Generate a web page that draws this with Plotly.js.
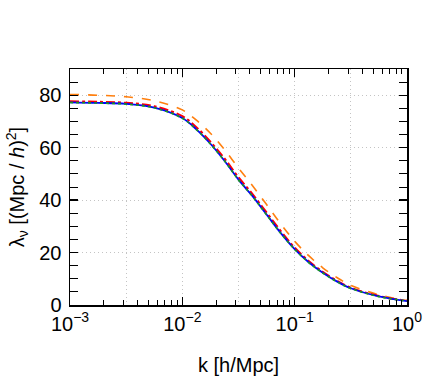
<!DOCTYPE html>
<html>
<head>
<meta charset="utf-8">
<script src="https://cdn.plot.ly/plotly-3.0.1.min.js"></script>
<style>html,body{margin:0;padding:0;background:#fff;}#chart{width:424px;height:376px;}</style>
</head>
<body>
<div id="chart"></div>
<script>
// log10(k) sample points
const logK = [-3, -2.75, -2.5, -2.25, -2, -1.875, -1.75, -1.625, -1.5, -1.375, -1.25, -1.125, -1, -0.875, -0.75, -0.625, -0.5, -0.25, 0];
const kValues = logK.map(v => Math.pow(10, v));

const lambdaBlue   = [77.3, 77.1, 76.7, 75.3, 71.3, 67.0, 61.5, 55.0, 47.8, 41.5, 34.5, 27.5, 21.3, 16.3, 12.3, 9.0, 6.4, 3.3, 1.5];
const lambdaGreen  = [77.2, 77.0, 76.6, 75.2, 71.2, 66.9, 61.4, 55.0, 47.7, 41.4, 34.4, 27.4, 21.2, 16.2, 12.2, 8.9, 6.3, 3.2, 1.5];
const lambdaRed    = [77.7, 77.5, 77.1, 75.8, 72.0, 67.8, 62.3, 55.9, 48.7, 42.3, 35.3, 28.3, 21.9, 16.8, 12.7, 9.3, 6.6, 3.4, 1.6];
const lambdaOrange = [80.3, 80.0, 79.4, 77.9, 74.4, 70.5, 65.5, 59.3, 52.2, 45.5, 38.3, 31.0, 24.3, 18.8, 14.2, 10.5, 7.5, 3.9, 1.7];

const xTickVals = [0.001, 0.01, 0.1, 1];
const xTickText = ['10<sup>−3</sup>', '10<sup>−2</sup>', '10<sup>−1</sup>', '10<sup>0</sup>'];
const xMinorVals = [];
[0.001, 0.01, 0.1].forEach(d => { for (let m = 2; m <= 9; m++) xMinorVals.push(d * m); });
const yTickVals = [0, 20, 40, 60, 80];

const FONT = 'Liberation Sans, Arial, Helvetica, sans-serif';
const GRID = {color: '#c4c4c4', dash: '1px,3px'};

function line(y, color, dash, width) {
  return {x: kValues, y: y, type: 'scatter', mode: 'lines',
    line: {color: color, dash: dash, width: width, shape: 'spline'},
    showlegend: false, hoverinfo: 'skip'};
}

const traces = [
  line(lambdaOrange, '#ff7f0e', 'dash', 1.6),
  line(lambdaRed, '#ff0000', 'dashdot', 2),
  line(lambdaBlue, '#0000ff', 'solid', 1.8),
  line(lambdaGreen, '#1a9a1a', 'dot', 1.6),
  {x: [], y: [], xaxis: 'x2', type: 'scatter', mode: 'lines', showlegend: false, hoverinfo: 'skip'}
];

const layout = {
  width: 424, height: 376,
  margin: {l: 70, r: 17, t: 69, b: 71},
  paper_bgcolor: '#fff', plot_bgcolor: '#fff',
  font: {family: FONT, color: '#000', size: 20},
  showlegend: false,
  xaxis: {
    type: 'log', range: [-3, 0],
    tickmode: 'array', tickvals: xTickVals, ticktext: xTickText,
    ticks: 'inside', ticklen: 8, tickwidth: 1.3, tickcolor: '#000',
    showline: true, linecolor: '#000', linewidth: 1.5, mirror: 'allticks',
    showgrid: false, zeroline: false,
    tickfont: {size: 20, family: FONT},
    minor: {tickmode: 'array', tickvals: xMinorVals, ticks: 'inside', ticklen: 5, tickwidth: 1, tickcolor: '#000', showgrid: false},
    title: {text: 'k [h/Mpc]', font: {size: 20, family: FONT}, standoff: 25}
  },
  xaxis2: {
    type: 'log', range: [-3, 0], overlaying: 'x', dtick: 0.5,
    showgrid: true, gridcolor: GRID.color, griddash: GRID.dash, gridwidth: 1,
    showticklabels: false, ticks: '', showline: false, zeroline: false
  },
  yaxis: {
    range: [0, 90],
    tickmode: 'array', tickvals: yTickVals,
    ticks: 'inside', ticklen: 8, tickwidth: 1.3, tickcolor: '#000',
    showline: true, linecolor: '#000', linewidth: 1.5, mirror: 'allticks',
    showgrid: true, gridcolor: GRID.color, griddash: GRID.dash, gridwidth: 1,
    zeroline: false,
    tickfont: {size: 20, family: FONT},
    ticklabelstandoff: 3,
    minor: {dtick: 5, tick0: 0, ticks: 'inside', ticklen: 5, tickwidth: 1, tickcolor: '#000', showgrid: false},
    title: {text: 'λ<sub>ν</sub> [(Mpc / <i>h</i>)<sup>2</sup>]', font: {size: 20, family: FONT}, standoff: 9}
  }
};

Plotly.newPlot('chart', traces, layout, {staticPlot: true, displayModeBar: false});
</script>
</body>
</html>
